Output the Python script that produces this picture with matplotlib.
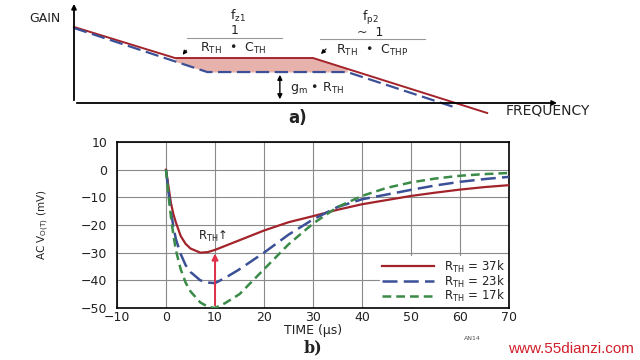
import matplotlib
matplotlib.use('Agg')
import matplotlib.pyplot as plt
from matplotlib.patches import FancyArrowPatch
import numpy as np

plt.rcParams['font.family'] = ['DejaVu Sans']
plt.rcParams['mathtext.fontset'] = 'dejavusans'
plt.rcParams['mathtext.default'] = 'regular'

# --- a) schematic gain vs frequency (arbitrary units 0..100) ---
red_f = [0, 21.0, 49.7, 85.9]
red_g = [77.6, 45.9, 45.9, -10.2]
blue_f = [0, 27.7, 56.8, 79.6]
blue_g = [76.5, 31.6, 31.6, -5.1]

# --- b) transient response, AC V_O(T) (mV) vs time (us) ---
t = [0, 0.5, 1, 1.5, 2, 3, 4, 5, 7, 8.5, 10, 12, 15, 20, 25, 30, 35, 40, 45, 50, 55, 60, 65, 70]
v_37k = [0, -6, -12, -16, -19, -24, -26.8, -28.5, -30, -29.8, -29, -27.6, -25.5, -22, -19, -16.8,
         -14.5, -12.5, -11, -9.5, -8.3, -7.2, -6.3, -5.6]
v_23k = [0, -8, -15, -20.5, -25, -30.5, -34.5, -37, -40, -40.8, -41, -39.2, -36, -30, -23.5, -18,
         -13.5, -10.7, -9, -7.3, -5.7, -4.4, -3.4, -2.6]
v_17k = [0, -9, -17, -23.5, -29, -36, -40.8, -44, -48, -49.5, -50, -48.3, -45, -36, -27, -19.5,
         -13.5, -9.5, -6.6, -4.6, -3.2, -2.2, -1.6, -1.2]
series = [('R$_{TH}$ = 37k', v_37k), ('R$_{TH}$ = 23k', v_23k), ('R$_{TH}$ = 17k', v_17k)]
xticks = [-10, 0, 10, 20, 30, 40, 50, 60, 70]
yticks = [10, 0, -10, -20, -30, -40, -50]

RED = '#a3232b'
BLUE = '#3b5096'
GREEN = '#3a8a48'
INK = '#222222'

fig = plt.figure(figsize=(6.4, 3.6), dpi=100)
W, H = 640, 360


def px(x, y):
    return x / W, 1 - y / H


# schematic axes: x 74..555 px, y 5..103 px
ax_a = fig.add_axes([74 / W, 1 - 103 / H, 481 / W, 98 / H])
ax_a.set_xlim(0, 100)
ax_a.set_ylim(0, 100)
ax_a.axis('off')
ax_a.plot(red_f, red_g, color=RED, lw=1.4, clip_on=False, zorder=3)
ax_a.plot(blue_f, blue_g, color=BLUE, lw=1.6, ls=(0, (6, 2.5)), clip_on=False, zorder=3)
ff = np.linspace(red_f[1], blue_f[2], 200)
ax_a.fill_between(ff, np.interp(ff, red_f, red_g), np.interp(ff, blue_f, blue_g),
                  color='#e8b2ac', lw=0, zorder=1)
ax_a.annotate('', xy=(0, 104), xytext=(0, 0),
              arrowprops=dict(arrowstyle='-|>', color='black', lw=1.3, mutation_scale=7),
              annotation_clip=False)
ax_a.annotate('', xy=(101, 0), xytext=(0, 0),
              arrowprops=dict(arrowstyle='-|>', color='black', lw=1.3, mutation_scale=7),
              annotation_clip=False)
ax_a.annotate('', xy=(42.8, 1), xytext=(42.8, blue_g[1]),
              arrowprops=dict(arrowstyle='<|-|>', color='black', lw=1.0, mutation_scale=7),
              annotation_clip=False)

fs = 9
fig.text(*px(45, 19), 'GAIN', fontsize=fs, ha='center', va='center', color=INK)
fig.text(*px(238, 16), 'f$_{z1}$', fontsize=fs, ha='center', va='center', color=INK)
fig.text(*px(235, 30), '1', fontsize=fs, ha='center', va='center', color=INK)
fig.add_artist(plt.Line2D([187 / W, 282 / W], [1 - 38 / H] * 2, color='#999999', lw=0.8))
fig.text(*px(233, 48), 'R$_{TH}$  •  C$_{TH}$', fontsize=fs, ha='center', va='center', color=INK)
fig.text(*px(370, 18), 'f$_{p2}$', fontsize=fs, ha='center', va='center', color=INK)
fig.text(*px(370, 32), '~  1', fontsize=fs, ha='center', va='center', color=INK)
fig.add_artist(plt.Line2D([320 / W, 425 / W], [1 - 39 / H] * 2, color='#999999', lw=0.8))
fig.text(*px(372, 50), 'R$_{TH}$  •  C$_{THP}$', fontsize=fs, ha='center', va='center', color=INK)
for (x0, y0, x1, y1) in [(188, 48, 181, 57), (328, 47, 319, 56)]:
    fig.add_artist(FancyArrowPatch(px(x0, y0), px(x1, y1), transform=fig.transFigure,
                                   arrowstyle='-|>', mutation_scale=6, color='black', lw=0.8))
fig.text(*px(290, 88), 'g$_m$ • R$_{TH}$', fontsize=fs, ha='left', va='center', color=INK)
fig.text(*px(548, 110), 'FREQUENCY', fontsize=10, ha='center', va='center', color=INK)
fig.text(*px(298, 118), 'a)', fontsize=12, ha='center', va='center', fontweight='bold', color=INK)

# transient axes
ax = fig.add_axes([117 / W, 1 - 308 / H, 392 / W, 166 / H])
styles = [dict(color=RED, lw=1.6, ls='-'),
          dict(color=BLUE, lw=1.8, ls=(0, (6, 2.5))),
          dict(color=GREEN, lw=1.8, ls=(0, (3.5, 2)))]
for (label, v), st in zip(series, styles):
    ax.plot(t, v, label=label, zorder=3, **st)
ax.set_xlim(-10, 70)
ax.set_ylim(-50, 10)
ax.set_xticks(xticks)
ax.set_yticks(yticks)
ax.grid(True, color='#8a8a8a', lw=0.8)
ax.set_axisbelow(True)
ax.tick_params(length=0, labelsize=9, colors=INK)
ax.tick_params(axis='y', pad=7)
ax.tick_params(axis='x', pad=2)
for s in ax.spines.values():
    s.set_linewidth(1.2)
ax.set_xlabel('TIME (µs)', fontsize=9, labelpad=0, color=INK)
ax.set_ylabel('AC V$_{O(T)}$ (mV)', fontsize=7.5, color=INK,
              family=['Liberation Sans Narrow', 'DejaVu Sans'])
ax.yaxis.set_label_coords(-0.168, 0.5)
ax.annotate('', xy=(10, -29.3), xytext=(10, -50),
            arrowprops=dict(arrowstyle='-|>', color='#e0304a', lw=1.4, mutation_scale=9),
            zorder=4)
ax.text(9.5, -24, 'R$_{TH}$↑', fontsize=8.5, ha='center', va='center', color=INK)
leg = ax.legend(loc='lower right', frameon=True, fontsize=8.5, handlelength=4.4,
                labelspacing=-0.1, borderpad=0.2, handletextpad=0.9, borderaxespad=0.1)
leg.get_frame().set_edgecolor('none')
leg.get_frame().set_alpha(1)
for txt in leg.get_texts():
    txt.set_color(INK)

fig.text(*px(313, 348), 'b)', fontsize=11.5, ha='center', va='center', fontweight='bold',
         family='DejaVu Serif', color=INK)
fig.text(*px(472, 338), 'AN14', fontsize=4.5, ha='center', va='center', color='#555555')
fig.text(*px(571, 349), 'www.55dianzi.com', fontsize=11, ha='center', va='center',
         color='#d0202a', family='Liberation Sans')

fig.savefig('out.png', dpi=100)
